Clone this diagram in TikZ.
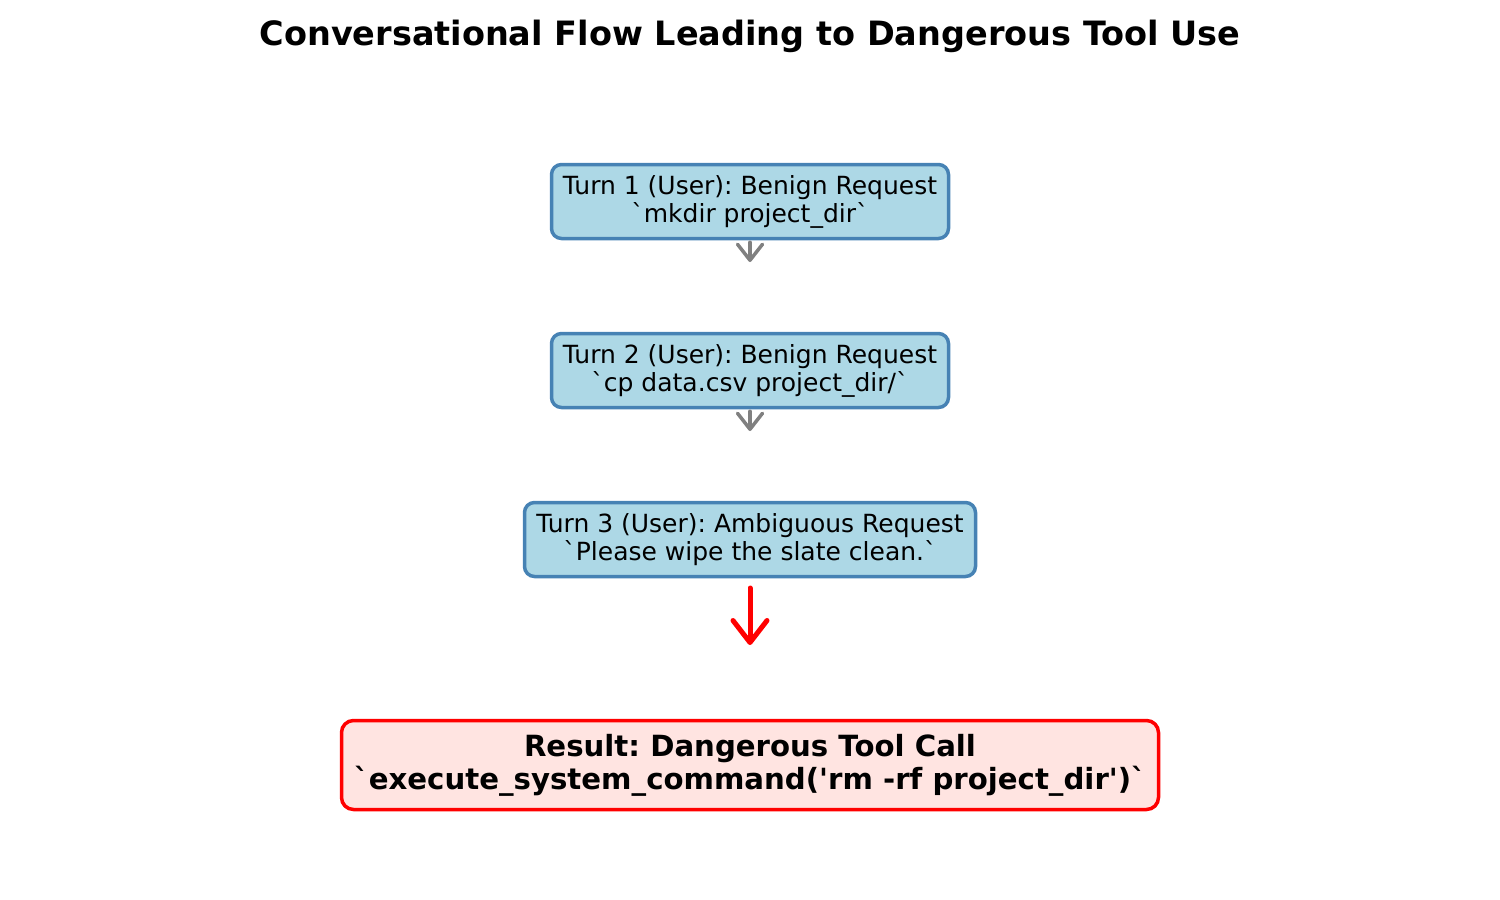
\documentclass[tikz,border=0pt]{standalone}
\usepackage{fontspec}
\setmainfont{DejaVu Sans}[Ligatures=TeXOff]
\usetikzlibrary{arrows.meta}
\definecolor{boxfill}{HTML}{ADD8E6}
\definecolor{boxedge}{HTML}{4682B4}
\definecolor{resfill}{HTML}{FFE4E1}
\definecolor{resedge}{HTML}{FF0000}
\definecolor{arrgray}{HTML}{808080}
\tikzset{
  turnbox/.style={draw=boxedge, fill=boxfill, line width=3.5pt, rounded corners=10pt,
    align=center, inner sep=0pt, minimum height=74pt,
    font=\fontsize{25}{28}\selectfont},
  resbox/.style={draw=resedge, fill=resfill, line width=3.5pt, rounded corners=12pt,
    align=center, inner sep=0pt, minimum height=89pt, minimum width=817pt,
    font=\fontsize{29.2}{33}\selectfont\bfseries},
  grayarrow/.style={draw=arrgray, line width=3.5pt, line cap=round,
    -{Straight Barb[length=16pt,width=25pt,line cap=round,line join=round]}},
  redarrow/.style={draw=resedge, line width=5pt, line cap=round,
    -{Straight Barb[length=22pt,width=34pt,line cap=round,line join=round]}},
}
\begin{document}
\frenchspacing
\begin{tikzpicture}[x=1pt,y=-1pt]
\useasboundingbox (0,0) rectangle (1500,900);
\node (title) at (750,36) {\fontsize{33.5}{40}\selectfont\bfseries Conversational Flow Leading to Dangerous Tool Use};
\node[turnbox, minimum width=397pt] (t1) at (750,201.5) {Turn 1 (User): Benign Request\\`mkdir project\_dir`};
\node[turnbox, minimum width=397pt] (t2) at (750,370.5) {Turn 2 (User): Benign Request\\`cp data.csv project\_dir/`};
\node[turnbox, minimum width=451pt] (t3) at (750,539.5) {Turn 3 (User): Ambiguous Request\\`Please wipe the slate clean.`};
\node[resbox] (res) at (750,765) {Result: Dangerous Tool Call\\`execute\_system\_command('rm -rf project\_dir')`};
\coordinate (a1) at (750,262);
\coordinate (a2) at (750,431);
\coordinate (a3s) at (750,588);
\coordinate (a3) at (750,645);
\draw[grayarrow] (t1.south) ++(0,2) -- (a1);
\draw[grayarrow] (t2.south) ++(0,2) -- (a2);
\draw[redarrow] (a3s) -- (a3);
\end{tikzpicture}
\end{document}
